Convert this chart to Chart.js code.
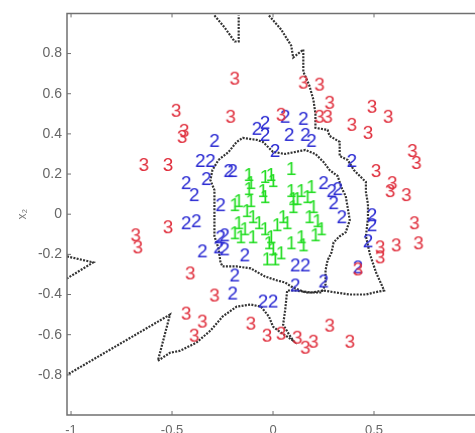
<!DOCTYPE html>
<html><head><meta charset="utf-8">
<script src="https://cdn.jsdelivr.net/npm/chart.js@4"></script>
<style>html,body{margin:0;padding:0;overflow:hidden;background:#fff}</style>
</head><body>
<canvas id="c" width="485" height="433"></canvas>
<script>
// ---- tick labels ----
const xTickValues = [-1, -0.5, 0, 0.5];
const yTickValues = [-0.8, -0.6, -0.4, -0.2, 0, 0.2, 0.4, 0.6, 0.8];

// ---- class "1" (green) ----
const class1 = [
  [-0.12,0.20],[-0.11,0.16],[-0.12,0.13],[-0.04,0.19],[-0.01,0.20],[0.00,0.17],[0.09,0.23],
  [-0.05,0.12],[-0.04,0.09],[-0.11,0.07],[-0.17,0.07],[-0.19,0.05],[-0.13,0.02],[-0.10,-0.01],
  [-0.17,-0.04],[-0.14,-0.07],[-0.07,-0.04],[-0.04,-0.07],[-0.01,-0.11],[0.02,-0.05],[0.05,-0.01],
  [0.07,-0.04],[0.09,0.12],[0.10,0.08],[0.10,0.04],[0.14,0.12],[0.12,0.08],[0.17,0.09],[0.19,0.14],
  [0.20,0.04],[0.18,-0.01],[0.22,-0.03],[0.24,-0.07],[0.21,-0.10],[0.14,-0.11],[0.15,-0.15],
  [0.09,-0.14],[0.00,-0.17],[-0.02,-0.14],[-0.10,-0.11],[-0.16,-0.11],[-0.19,-0.09],[0.04,-0.19],
  [-0.03,-0.22],[0.01,-0.22]
];

// ---- class "2" (blue) ----
const class2 = [
  [-0.08,0.43],[-0.04,0.46],[-0.04,0.40],[0.01,0.32],[0.06,0.49],[0.08,0.40],[0.15,0.48],[0.16,0.40],
  [0.19,0.37],[0.39,0.27],[-0.20,0.22],[0.25,0.16],[0.29,0.12],[0.32,0.13],[0.30,0.06],[0.34,-0.01],
  [0.49,0.00],[-0.29,0.37],[-0.36,0.27],[-0.31,0.27],[-0.22,0.22],[-0.43,0.16],[-0.39,0.10],[-0.33,0.18],
  [-0.26,0.05],[-0.43,-0.04],[-0.38,-0.03],[-0.26,-0.11],[-0.24,-0.10],[-0.35,-0.18],[-0.27,-0.16],
  [-0.24,-0.17],[-0.14,-0.20],[-0.19,-0.30],[-0.20,-0.39],[0.11,-0.25],[0.16,-0.25],[0.11,-0.35],
  [0.25,-0.33],[-0.05,-0.43],[0.00,-0.43],[0.49,-0.05],[0.47,-0.13],[0.42,-0.26]
];

// ---- class "3" (red) ----
const class3 = [
  [-0.19,0.68],[0.15,0.66],[0.23,0.65],[0.28,0.56],[0.23,0.49],[0.27,0.49],[0.04,0.50],[0.39,0.45],
  [0.47,0.41],[0.49,0.54],[0.57,0.49],[0.69,0.32],[0.71,0.26],[0.51,0.22],[0.59,0.16],[0.58,0.12],
  [0.66,0.10],[0.70,-0.04],[0.53,-0.16],[0.61,-0.15],[0.72,-0.14],[0.53,-0.21],[0.42,-0.27],
  [-0.48,0.52],[-0.45,0.39],[-0.44,0.42],[-0.64,0.25],[-0.52,0.25],[-0.21,0.49],[-0.52,-0.06],
  [-0.68,-0.10],[-0.67,-0.16],[-0.41,-0.29],[-0.29,-0.40],[-0.43,-0.49],[-0.35,-0.53],[-0.39,-0.60],
  [-0.11,-0.54],[-0.03,-0.60],[0.04,-0.59],[0.12,-0.61],[0.16,-0.66],[0.20,-0.63],[0.28,-0.55],[0.38,-0.63]
];

// ---- decision boundaries ----
const boundaryTopSpike = [[-0.29,0.99],[-0.24,0.93],[-0.19,0.86],[-0.17,0.86],[-0.17,0.99]];
const boundaryOuter = [
  [-0.02,0.99],[0.04,0.92],[0.09,0.84],[0.10,0.78],[0.15,0.82],[0.15,0.71],[0.18,0.64],[0.20,0.57],
  [0.21,0.50],[0.21,0.43],[0.27,0.42],[0.28,0.39],[0.33,0.36],[0.33,0.29],[0.37,0.27],[0.40,0.22],
  [0.42,0.20],[0.46,0.16],[0.46,0.11],[0.47,0.05],[0.47,-0.02],[0.46,-0.11],[0.48,-0.20],[0.51,-0.29],
  [0.55,-0.38],[0.50,-0.39],[0.46,-0.40],[0.38,-0.40],[0.31,-0.39],[0.25,-0.38],[0.19,-0.39],[0.11,-0.38],
  [0.07,-0.38],[0.06,-0.48],[0.05,-0.55],[0.08,-0.60],[0.10,-0.63],[0.07,-0.61],[0.04,-0.59],[0.00,-0.56],
  [-0.02,-0.51],[-0.06,-0.46],[-0.11,-0.45],[-0.18,-0.46],[-0.25,-0.51],[-0.31,-0.58],[-0.38,-0.64],
  [-0.46,-0.68],[-0.51,-0.69],[-0.57,-0.73],[-0.51,-0.50],[-1.02,-0.80]
];
const boundaryLeftWedge = [[-1.02,-0.21],[-0.89,-0.24],[-1.02,-0.32]];
const boundaryInner = [
  [-0.27,0.27],[-0.22,0.31],[-0.18,0.36],[-0.15,0.38],[-0.08,0.37],[-0.05,0.36],[0.00,0.31],[0.06,0.30],
  [0.16,0.32],[0.21,0.30],[0.25,0.26],[0.28,0.22],[0.32,0.19],[0.34,0.13],[0.36,0.09],[0.37,0.03],
  [0.38,-0.03],[0.36,-0.09],[0.33,-0.11],[0.30,-0.14],[0.29,-0.19],[0.27,-0.23],[0.26,-0.28],[0.26,-0.35],
  [0.24,-0.39],[0.16,-0.39],[0.09,-0.36],[0.06,-0.34],[0.02,-0.33],[-0.04,-0.31],[-0.11,-0.27],[-0.18,-0.26],
  [-0.25,-0.26],[-0.26,-0.24],[-0.27,-0.17],[-0.29,-0.11],[-0.29,0.00],[-0.29,0.12],[-0.31,0.17],
  [-0.30,0.22],[-0.27,0.27]
];

function digitImage(ch, color) {
  const c = document.createElement('canvas');
  c.width = 18; c.height = 24;
  const g = c.getContext('2d');
  g.font = '19px "Liberation Sans", Arial, sans-serif';
  g.fillStyle = color;
  g.textAlign = 'center';
  g.textBaseline = 'alphabetic';
  g.fillText(ch, 9, 19);
  return c;
}
const toPts = arr => arr.map(p => ({x: p[0], y: p[1]}));

function lineSet(arr) {
  return {type: 'scatter', data: toPts(arr), showLine: true, pointRadius: 0,
    borderColor: 'rgba(30,30,30,0.9)', borderWidth: 2.2, borderDash: [2, 1.3], fill: false};
}
function pointSet(arr, ch, color) {
  return {type: 'scatter', data: toPts(arr), pointStyle: digitImage(ch, color), pointRadius: 9, showLine: false};
}

const frame = {
  id: 'frame',
  afterDraw(chart) {
    const {ctx, chartArea: a, scales: {x, y}} = chart;
    ctx.save();
    ctx.strokeStyle = '#707070';
    ctx.lineWidth = 1.5;
    ctx.beginPath();
    ctx.moveTo(a.right + 5, a.top); ctx.lineTo(a.left, a.top); ctx.lineTo(a.left, a.bottom); ctx.lineTo(a.right + 5, a.bottom);
    ctx.stroke();
    ctx.lineWidth = 1;
    ctx.beginPath();
    xTickValues.forEach(v => {
      const px = x.getPixelForValue(v);
      ctx.moveTo(px, a.bottom); ctx.lineTo(px, a.bottom - 4);
      ctx.moveTo(px, a.top); ctx.lineTo(px, a.top + 4);
    });
    yTickValues.forEach(v => {
      const py = y.getPixelForValue(v);
      ctx.moveTo(a.left, py); ctx.lineTo(a.left + 4, py);
    });
    ctx.stroke();
    ctx.restore();
  }
};

new Chart(document.getElementById('c'), {
  type: 'scatter',
  data: {
    datasets: [
      pointSet(class3, '3', '#e0303e'),
      pointSet(class2, '2', '#2a2ad2'),
      pointSet(class1, '1', '#22dd22'),
      lineSet(boundaryTopSpike),
      lineSet(boundaryOuter),
      lineSet(boundaryLeftWedge),
      lineSet(boundaryInner)
    ]
  },
  options: {
    responsive: false,
    animation: false,
    devicePixelRatio: 1,
    layout: {padding: {left: 0, top: 10, right: 6, bottom: 0}},
    plugins: {legend: {display: false}, tooltip: {enabled: false}},
    scales: {
      x: {
        type: 'linear', min: -1.02, max: 1.0,
        afterBuildTicks: s => { s.ticks = xTickValues.map(v => ({value: v})); },
        afterFit: s => { s.height = 18; },
        grid: {display: false, drawTicks: false},
        border: {display: false},
        ticks: {color: '#666', padding: 8, font: {size: 13, family: '"Liberation Sans", Arial, sans-serif'},
          callback: v => String(v), maxRotation: 0, autoSkip: false}
      },
      y: {
        type: 'linear', min: -1, max: 1,
        afterBuildTicks: s => { s.ticks = yTickValues.map(v => ({value: v})); },
        afterFit: s => { s.width = 67; },
        grid: {display: false, drawTicks: false},
        border: {display: false},
        title: {display: true, text: 'x₂', color: '#777', font: {size: 12, family: '"Liberation Sans", Arial, sans-serif'}, padding: {top: 15, bottom: 0}},
        ticks: {color: '#666', padding: 5, font: {size: 14, family: '"Liberation Sans", Arial, sans-serif'},
          callback: v => String(v), autoSkip: false}
      }
    }
  },
  plugins: [frame]
});
</script>
</body></html>
